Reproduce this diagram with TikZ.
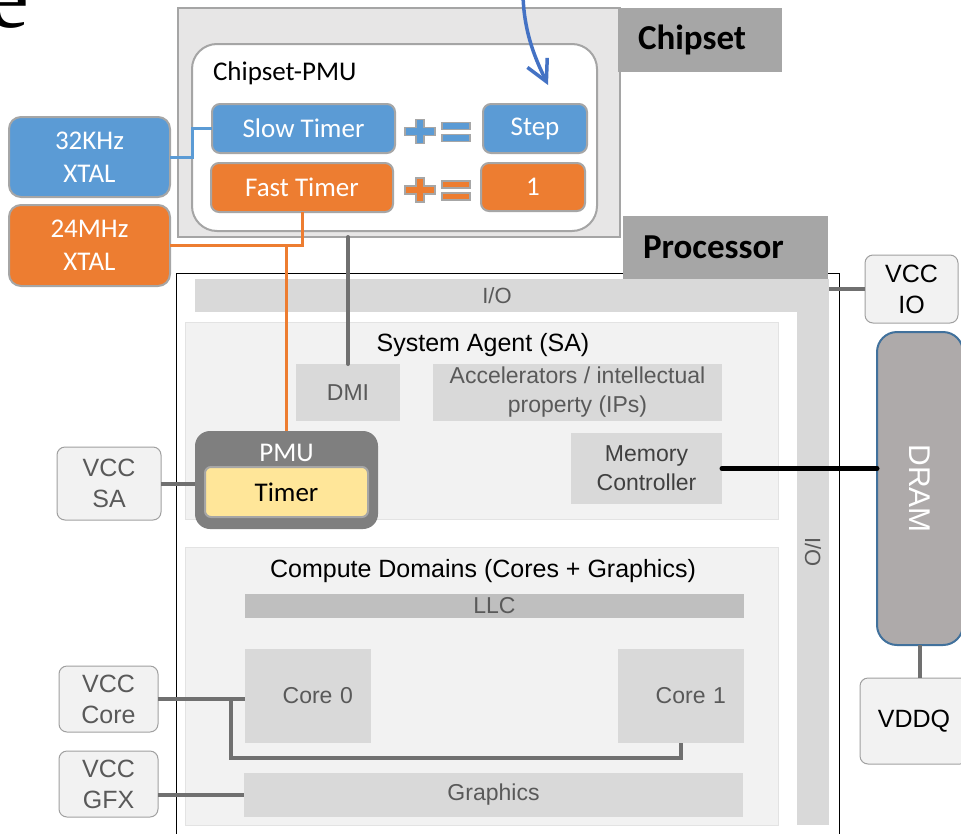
\documentclass[tikz,border=0pt]{standalone}
\usepackage{fontspec}
\setmainfont{Carlito}
\newfontfamily\panelfont{Liberation Sans}
\newfontfamily\pagefont{Liberation Serif}
\usetikzlibrary{arrows.meta,calc,positioning}

\definecolor{chipfill}{HTML}{E7E6E6}
\definecolor{chipline}{HTML}{A5A5A5}
\definecolor{taggray}{HTML}{A6A6A6}
\definecolor{xblue}{HTML}{5B9BD5}
\definecolor{xorange}{HTML}{ED7D31}
\definecolor{edgegray}{HTML}{A6A6A6}
\definecolor{iogray}{HTML}{D9D9D9}
\definecolor{domainfill}{HTML}{F2F2F2}
\definecolor{domainline}{HTML}{E3E3E3}
\definecolor{unitgray}{HTML}{D9D9D9}
\definecolor{llcgray}{HTML}{BFBFBF}
\definecolor{labelgray}{HTML}{595959}
\definecolor{pmugray}{HTML}{7F7F7F}
\definecolor{timeryellow}{HTML}{FFE699}
\definecolor{dramfill}{HTML}{AEAAAA}
\definecolor{dramline}{HTML}{41719C}
\definecolor{wiregray}{HTML}{707070}
\definecolor{arrowblue}{HTML}{4472C4}
\definecolor{supplyline}{HTML}{A0A0A0}

% plus-equals sign: x, y of the plus, colour
\newcommand\pluseq[3]{%
  \begin{scope}[shift={(#1,#2)}]
    \filldraw[fill=#3,draw=edgegray,line width=1.2pt]
      (-15,-4) -- (-4,-4) -- (-4,-12) -- (4,-12) -- (4,-4) -- (15,-4)
      -- (15,4) -- (4,4) -- (4,12) -- (-4,12) -- (-4,4) -- (-15,4) -- cycle;
    \filldraw[fill=#3,draw=edgegray,line width=1.2pt] (22,-9) rectangle (50,-2);
    \filldraw[fill=#3,draw=edgegray,line width=1.2pt] (22,3) rectangle (50,10);
  \end{scope}}

\begin{document}
\begin{tikzpicture}[x=1pt,y=-1pt,>={Straight Barb[length=21pt,width=22pt]},
  every node/.style={inner sep=0pt,outer sep=0pt},
  chipbox/.style={draw=chipline,fill=chipfill,line width=1.5pt},
  tag/.style={fill=taggray,align=left,inner xsep=20pt,font=\fontsize{35}{40}\selectfont\bfseries},
  pmubox/.style={draw=chipline,fill=white,line width=2pt,rounded corners=25pt},
  counter/.style={draw=edgegray,line width=2pt,rounded corners=8pt,text=white,align=center,font=\fontsize{27}{33}\selectfont},
  xtal/.style={counter,rounded corners=12pt},
  procbox/.style={draw=black,line width=1pt,fill=white},
  iobar/.style={fill=iogray},
  iotext/.style={text=labelgray,font=\panelfont\fontsize{22}{26}\selectfont},
  panelbox/.style={draw=domainline,fill=domainfill,line width=1pt},
  title/.style={font=\panelfont\fontsize{25}{30}\selectfont},
  unit/.style={fill=unitgray,text=labelgray,align=center,font=\panelfont\fontsize{23}{29}\selectfont},
  core/.style={unit,text width=90pt,align=right,inner xsep=18pt,minimum height=94pt},
  supply/.style={draw=supplyline,fill=domainfill,line width=1pt,rounded corners=8pt,text=labelgray,align=center,font=\panelfont\fontsize{25}{31}\selectfont},
  wire/.style={draw=wiregray,line width=4pt},
  ]
  \useasboundingbox (0,0) rectangle (961,833);
  \node[anchor=base west,font=\pagefont\fontsize{92}{92}\selectfont] at (-11,27) (cue) {e};

  % chipset
  \node[chipbox,minimum width=442pt,minimum height=229pt] at (399,122.5) (chipset) {};
  \node[tag,text width=124pt,minimum height=64pt] at (700,40) (chiptag) {Chipset};
  \node[pmubox,minimum width=405pt,minimum height=187pt] at (394.5,137.5) (cpmu) {};
  \node[anchor=base west,font=\fontsize{27}{33}\selectfont] at (213,80) (cpmutitle) {Chipset-PMU};
  \node[counter,fill=xblue,minimum width=183pt,minimum height=49pt] at (303.5,128.5) (slow) {Slow Timer};
  \node[counter,fill=xorange,minimum width=182pt,minimum height=49pt] at (302,187.5) (fast) {Fast Timer};
  \node[counter,fill=xblue,minimum width=104pt,minimum height=49pt] at (535,128.5) (step) {Step};
  \node[counter,fill=xorange,minimum width=104pt,minimum height=48pt] at (533,187) (one) {1};
  \pluseq{420}{131.5}{xblue}
  \pluseq{420}{190}{xorange}
  \node[xtal,fill=xblue,minimum width=161pt,minimum height=80pt] at (89.5,157) (xtal32) {32KHz\\XTAL};
  \node[xtal,fill=xorange,minimum width=161pt,minimum height=81pt] at (89.5,245.5) (xtal24) {24MHz\\XTAL};

  % processor
  \node[procbox,minimum width=663pt,minimum height=572pt] at (507.5,559) (proc) {};
  \node[iobar,minimum width=634pt,minimum height=33pt,label={[iotext,xshift=-15pt]center:I/O}] at (512,295.5) (iotop) {};
  \node[iobar,minimum width=32pt,minimum height=546pt,label={[iotext,rotate=-90]center:I/O}] at (813,552) (ioright) {};
  \node[tag,text width=165pt,minimum height=63pt] at (725.5,247.5) (proctag) {Processor};

  \node[panelbox,minimum width=593pt,minimum height=197pt] at (481.5,420.5) (sa) {};
  \node[title] at (483,345) (satitle) {System Agent (SA)};
  \node[unit,minimum width=104pt,minimum height=57pt] at (348,392.5) (dmi) {DMI};
  \node[unit,minimum width=289pt,minimum height=57pt] at (577.5,392.5) (ips) {Accelerators / intellectual\\property (IPs)};
  \node[unit,text=black!75,minimum width=151pt,minimum height=71pt] at (646.5,468.5) (mc) {Memory\\Controller};
  \node[fill=pmugray,rounded corners=15pt,minimum width=183pt,minimum height=98pt] at (286.5,480) (pmu) {};
  \node[text=white,font=\fontsize{27}{33}\selectfont] at (286.5,453) (pmutitle) {PMU};
  \node[draw=edgegray,fill=timeryellow,line width=2pt,rounded corners=6pt,font=\fontsize{27}{33}\selectfont,minimum width=163pt,minimum height=50pt] at (286.5,492) (timer) {Timer};

  \node[panelbox,minimum width=593pt,minimum height=278pt] at (481.5,686) (cd) {};
  \node[title] at (483,571) (cdtitle) {Compute Domains (Cores + Graphics)};
  \node[unit,fill=llcgray,minimum width=499pt,minimum height=24pt] at (494.5,606) (llc) {LLC};
  \node[core] at (308,696) (core0) {Core 0};
  \node[core] at (681,696) (core1) {Core 1};
  \node[unit,minimum width=499pt,minimum height=44pt] at (493.5,795) (gfx) {Graphics};

  % supplies and memory
  \node[supply,minimum width=104pt,minimum height=73pt] at (109,483.5) (vccsa) {VCC\\SA};
  \node[supply,minimum width=99pt,minimum height=66pt] at (108.5,699) (vcccore) {VCC\\Core};
  \node[supply,minimum width=99pt,minimum height=66pt] at (108.5,784) (vccgfx) {VCC\\GFX};
  \node[supply,text=black,minimum width=93pt,minimum height=68pt] at (911.5,289) (vccio) {VCC\\IO};
  \node[draw=dramline,fill=dramfill,line width=2pt,rounded corners=20pt,minimum width=86pt,minimum height=313pt,
    label={[rotate=-90,text=white,font=\panelfont\fontsize{30}{36}\selectfont]center:DRAM}] at (920,488.5) (dram) {};
  \node[supply,text=black,minimum width=108pt,minimum height=86pt] at (914,721) (vddq) {VDDQ};

  % wires
  \draw[xblue,line width=3pt] (xtal32.east) -- ++(22,0) |- (slow.west);
  \draw[xorange,line width=3pt] (fast.south) |- (xtal24.east);
  \draw[xorange,line width=3pt] (pmu.north) -- (pmu.north |- xtal24.east);
  \draw[wire,line cap=round] (dmi.north) -- (dmi.north |- chipset.south);
  \draw[wire] (vccsa.east) -- (vccsa.east -| pmu.west);
  \coordinate (split) at ($(vcccore.east)+(73,0)$);
  \draw[wire] (vcccore.east) -- (vcccore.east -| core0.west);
  \draw[wire] (split) |- ($(core1.south)+(0,15)$) -- (core1.south);
  \draw[wire] (gfx.west -| vccgfx.east) -- (gfx.west);
  \draw[wire] (vccio.west -| iotop.east) -- (vccio.west);
  \draw[line width=5pt,line cap=round] (mc.east) -- (mc.east -| dram.west);
  \draw[wire] (dram.south) -- (dram.south |- vddq.north);
  \coordinate (drop) at (523,-5);
  \coordinate (stepin) at (548,85);
  \draw[->,arrowblue,line width=3.5pt] (drop) .. controls (524,35) and (537,62) .. (stepin);
\end{tikzpicture}
\end{document}
